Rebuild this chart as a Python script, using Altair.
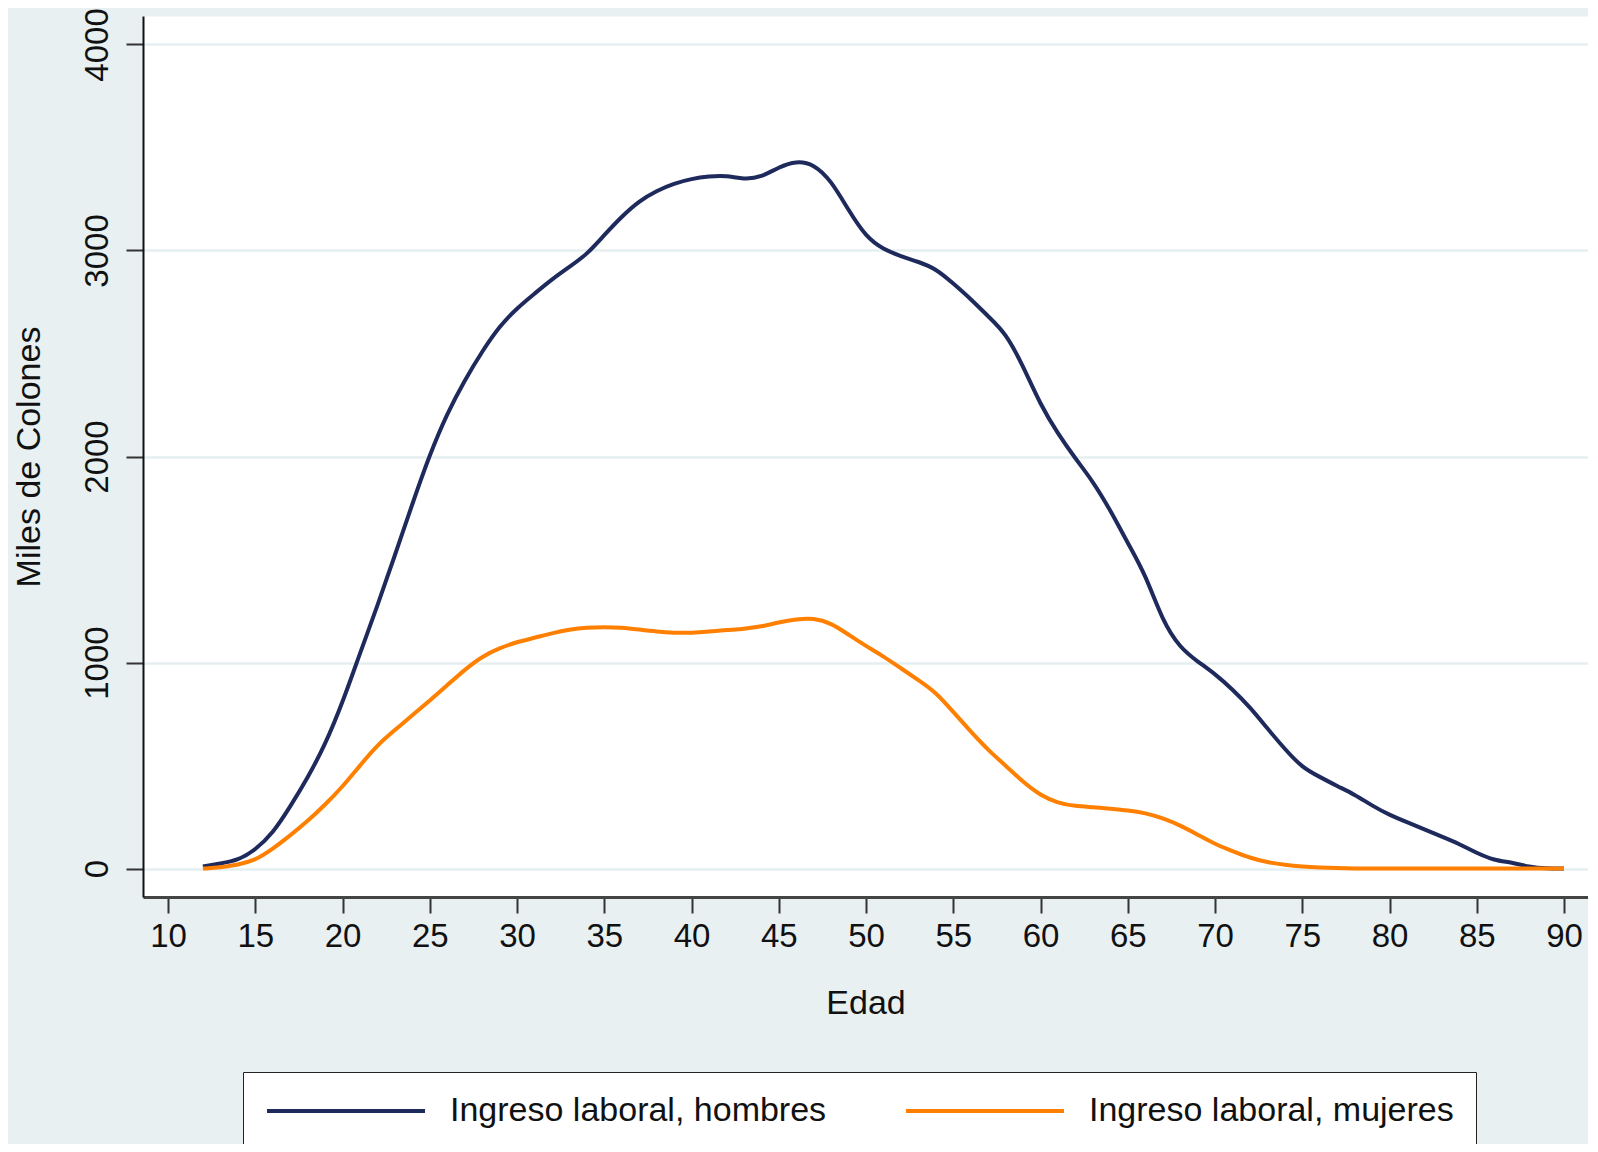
import altair as alt
import pandas as pd

# ---- data ----
edad = list(range(12, 91))
hombres = [10, 25, 40, 90, 170, 300, 440, 600, 805, 1045,
           1275, 1520, 1770, 2010, 2210, 2370, 2510, 2633, 2720, 2790,
           2860, 2920, 2980, 3075, 3165, 3240, 3290, 3325, 3348, 3360,
           3364, 3345, 3355, 3405, 3435, 3420, 3340, 3195, 3065, 3005,
           2972, 2945, 2912, 2840, 2765, 2680, 2600, 2440, 2250, 2110,
           1990, 1880, 1740, 1580, 1430, 1200, 1071, 1005, 945, 870,
           784, 680, 580, 490, 445, 400, 360, 305, 260, 225,
           190, 155, 120, 75, 40, 30, 8, 0, 0]
mujeres = [0, 5, 18, 40, 95, 160, 230, 310, 397, 500,
           600, 672, 745, 815, 890, 965, 1030, 1070, 1100, 1120,
           1142, 1160, 1170, 1172, 1170, 1160, 1150, 1144, 1144, 1150,
           1158, 1163, 1174, 1195, 1210, 1216, 1192, 1135, 1080, 1030,
           972, 915, 856, 760, 665, 575, 500, 420, 355, 318,
           303, 298, 290, 282, 270, 245, 210, 165, 118, 85,
           52, 30, 18, 10, 5, 2, 0, 0, 0, 0,
           0, 0, 0, 0, 0, 0, 0, 0, 0]
series = ["Ingreso laboral, hombres", "Ingreso laboral, mujeres"]
colores = ["#1F2A5C", "#FF8000"]
x_ticks = list(range(10, 95, 5))
y_ticks = [0, 1000, 2000, 3000, 4000]

rows = []
for s, vals in zip(series, [hombres, mujeres]):
    for a, v in zip(edad, vals):
        rows.append({"Edad": a, "Valor": v, "Serie": s})
df = pd.DataFrame(rows)

FONT = "Liberation Sans"
TXT = "#111111"

chart = alt.Chart(df).mark_line(strokeWidth=4, interpolate="basis").encode(
    x=alt.X(
        "Edad:Q",
        scale=alt.Scale(domain=[8.567, 91.375], nice=False, zero=False),
        axis=alt.Axis(
            values=x_ticks, format="d", title="Edad", grid=False,
            tickSize=16, tickWidth=2, tickColor="#333333",
            domainColor="#444444", domainWidth=3,
            labelFontSize=33, labelPadding=7, labelBaseline="top",
            labelColor=TXT, labelFont=FONT, labelFlush=False,
            titleFontSize=34, titleFont=FONT, titleFontWeight="normal",
            titleColor=TXT, titleY=106, titleBaseline="middle",
        ),
    ),
    y=alt.Y(
        "Valor:Q",
        scale=alt.Scale(domain=[-138, 4138], nice=False, zero=False),
        axis=alt.Axis(
            values=y_ticks, format="d", title="Miles de Colones",
            grid=True, gridColor="#E6EFF0", gridWidth=2.5,
            tickSize=17, tickWidth=2, tickColor="#333333",
            domainColor="#111111", domainWidth=2,
            labelAngle=270, labelAlign="center", labelBaseline="alphabetic",
            labelPadding=19, labelFontSize=33, labelColor=TXT, labelFont=FONT,
            labelFlush=False,
            titleFontSize=34, titleFont=FONT, titleFontWeight="normal",
            titleColor=TXT, titleX=-114, titleAngle=270,
            titleBaseline="middle", titleAlign="center",
        ),
    ),
    color=alt.Color(
        "Serie:N",
        scale=alt.Scale(domain=series, range=colores),
        legend=alt.Legend(
            title=None, orient="none", legendX=100, legendY=1056,
            direction="horizontal", columns=2, columnPadding=77,
            symbolType="stroke", symbolSize=24964, symbolStrokeWidth=4,
            clipHeight=34,
            labelFontSize=34, labelFont=FONT, labelColor=TXT,
            labelOffset=23, labelLimit=700,
            padding=22, fillColor="white", strokeColor="#222222",
        ),
    ),
).properties(
    width=1445,
    height=881,
    padding={"left": 135, "top": 8, "right": 0, "bottom": 247},
    autosize=alt.AutoSizeParams(type="none"),
    background="#E8F0F1",
).configure_view(
    fill="white",
    strokeOpacity=0,
)

chart.save("out.html", embed_options={"renderer": "svg", "actions": False})
